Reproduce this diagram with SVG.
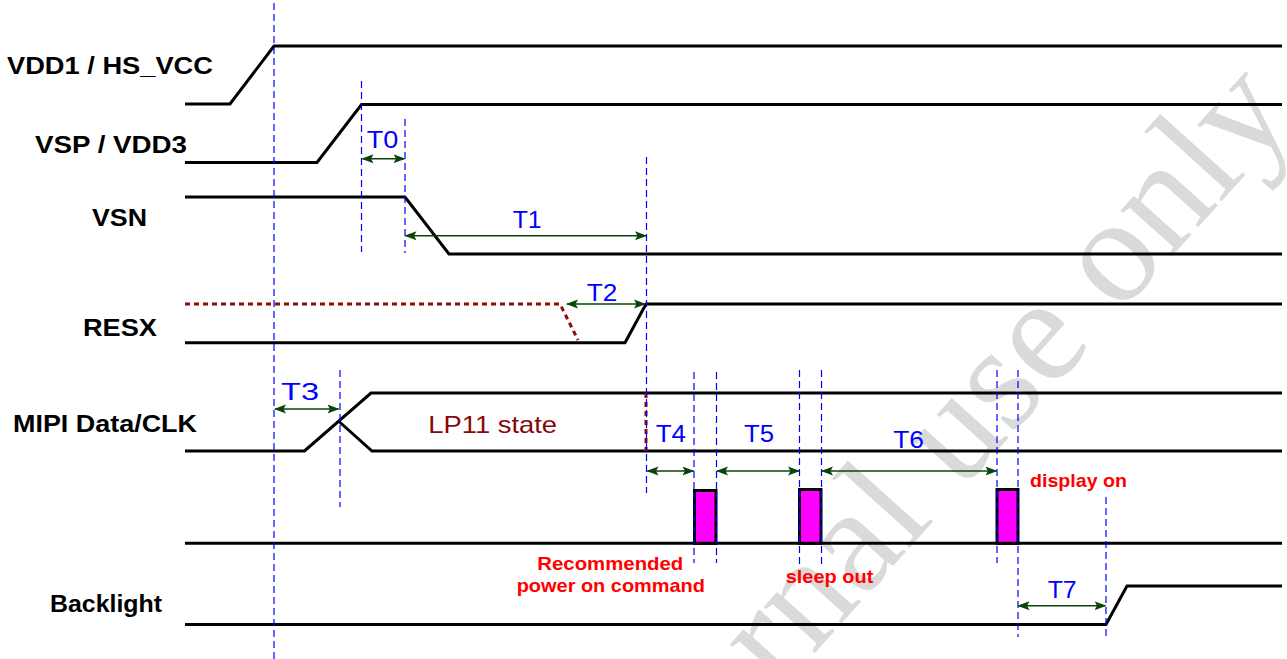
<svg xmlns="http://www.w3.org/2000/svg" width="1287" height="659" viewBox="0 0 1287 659">
<style>
.sig{fill:none;stroke:#000;stroke-width:3;stroke-linejoin:miter}
.red-dash{fill:none;stroke:#8f0a0a;stroke-width:3;stroke-dasharray:5 4}
.guide{fill:none;stroke:#0000ff;stroke-width:1.2;stroke-dasharray:7 4}
.arr{fill:none;stroke:#0a440a;stroke-width:1.6;marker-start:url(#ah);marker-end:url(#ah)}
.lbl{font-family:"Liberation Sans",Arial,sans-serif;font-weight:bold;font-size:24px;fill:#000}
.t{font-family:"Liberation Sans",Arial,sans-serif;font-size:24px;fill:#0000ff}
.cmd{font-family:"Liberation Sans",Arial,sans-serif;font-weight:bold;font-size:19px;fill:#ff0000}
.lp{font-family:"Liberation Sans",Arial,sans-serif;font-size:24px;fill:#850808}
.pulse{fill:#ff00ff;stroke:#000;stroke-width:3}
.wm{font-family:"Liberation Serif","Times New Roman",serif;font-size:150px;fill:#dadada}
</style>
<defs>
<marker id="ah" viewBox="0 0 12 10" refX="11" refY="5" markerWidth="12" markerHeight="10" markerUnits="userSpaceOnUse" orient="auto-start-reverse">
<path d="M0,0.5 L12,5 L0,9.5 L2.5,5 z" fill="#0a440a"/>
</marker>
</defs>
<rect width="1287" height="659" fill="#fff"/>
<g id="watermark">
<text class="wm" transform="translate(623,866) rotate(-48)">Internal use only</text>
</g>
<g id="signals">
<g id="vdd1"><path class="sig" d="M185,104 H230 L274,46 H1282"/><text class="lbl" x="7" y="74" textLength="206" lengthAdjust="spacingAndGlyphs">VDD1 / HS_VCC</text></g>
<g id="vsp"><path class="sig" d="M185,162.5 H317 L361.5,104.5 H1282"/><text class="lbl" x="35" y="152.5" textLength="152" lengthAdjust="spacingAndGlyphs">VSP / VDD3</text></g>
<g id="vsn"><path class="sig" d="M185,197 H405 L449,254 H1282"/><text class="lbl" x="92" y="225.5" textLength="55" lengthAdjust="spacingAndGlyphs">VSN</text></g>
<g id="resx"><path class="red-dash" d="M185,304 H560 L578,340"/><path class="sig" d="M185,342.7 H625 L646,304 H1282"/><text class="lbl" x="83" y="335.7" textLength="74" lengthAdjust="spacingAndGlyphs">RESX</text></g>
<g id="mipi"><path class="sig" d="M185,451 H304.5 L371,393 H1282"/><path class="sig" d="M339,421.5 L372,451 H1282"/><path class="red-dash" d="M646,393 V451"/><text class="lbl" x="13" y="431.7" textLength="184" lengthAdjust="spacingAndGlyphs">MIPI Data/CLK</text><text class="lp" x="428.3" y="433" textLength="128.7" lengthAdjust="spacingAndGlyphs">LP11 state</text></g>
<g id="command"><path class="sig" d="M185,543.3 H1282"/>
<rect class="pulse" x="694.5" y="490.5" width="21.5" height="52.8"/>
<rect class="pulse" x="799.5" y="489.5" width="21.5" height="53.8"/>
<rect class="pulse" x="997" y="489.5" width="21" height="53.8"/>
<text class="cmd" x="537.3" y="570" textLength="146" lengthAdjust="spacingAndGlyphs">Recommended</text>
<text class="cmd" x="516.7" y="592" textLength="188.3" lengthAdjust="spacingAndGlyphs">power on command</text>
<text class="cmd" x="785.7" y="583" textLength="87.6" lengthAdjust="spacingAndGlyphs">sleep out</text>
<text class="cmd" x="1030" y="487" textLength="97" lengthAdjust="spacingAndGlyphs">display on</text>
</g>
<g id="backlight"><path class="sig" d="M185,624.5 H1106 L1127,586 H1282"/><text class="lbl" x="50" y="611.5" textLength="112" lengthAdjust="spacingAndGlyphs">Backlight</text></g>
</g>
<g id="guides">
<path class="guide" d="M274,3 V659 M361.5,81 V252 M405,119 V253 M646.5,157 V493 M340,370 V507 M694,372 V563 M716.5,372 V563 M799.5,370 V565 M821.5,370 V568 M997,370 V563 M1018,370 V637 M1106,497 V640"/>
</g>
<g id="connectors">
<path class="arr" d="M362.5,158.7 H404.5"/>
<path class="arr" d="M405.5,235.7 H646"/>
<path class="arr" d="M567,304 H645"/>
<path class="arr" d="M275,409 H338.5"/>
<path class="arr" d="M647.5,471 H693.5"/>
<path class="arr" d="M717,471 H799"/>
<path class="arr" d="M822,471 H996.5"/>
<path class="arr" d="M1018.5,605.7 H1105.5"/>
</g>
<g id="timing-labels">
<text class="t" x="366.7" y="148" textLength="31.6" lengthAdjust="spacingAndGlyphs">T0</text>
<text class="t" x="512.7" y="228.3" textLength="29" lengthAdjust="spacingAndGlyphs">T1</text>
<text class="t" x="586.7" y="300.7" textLength="30.6" lengthAdjust="spacingAndGlyphs">T2</text>
<text class="t" x="281" y="400" textLength="38" lengthAdjust="spacingAndGlyphs">T3</text>
<text class="t" x="655.7" y="442.3" textLength="30.3" lengthAdjust="spacingAndGlyphs">T4</text>
<text class="t" x="744" y="442.3" textLength="30" lengthAdjust="spacingAndGlyphs">T5</text>
<text class="t" x="893.3" y="448.3" textLength="30.7" lengthAdjust="spacingAndGlyphs">T6</text>
<text class="t" x="1047.7" y="598.3" textLength="29" lengthAdjust="spacingAndGlyphs">T7</text>
</g>
</svg>
